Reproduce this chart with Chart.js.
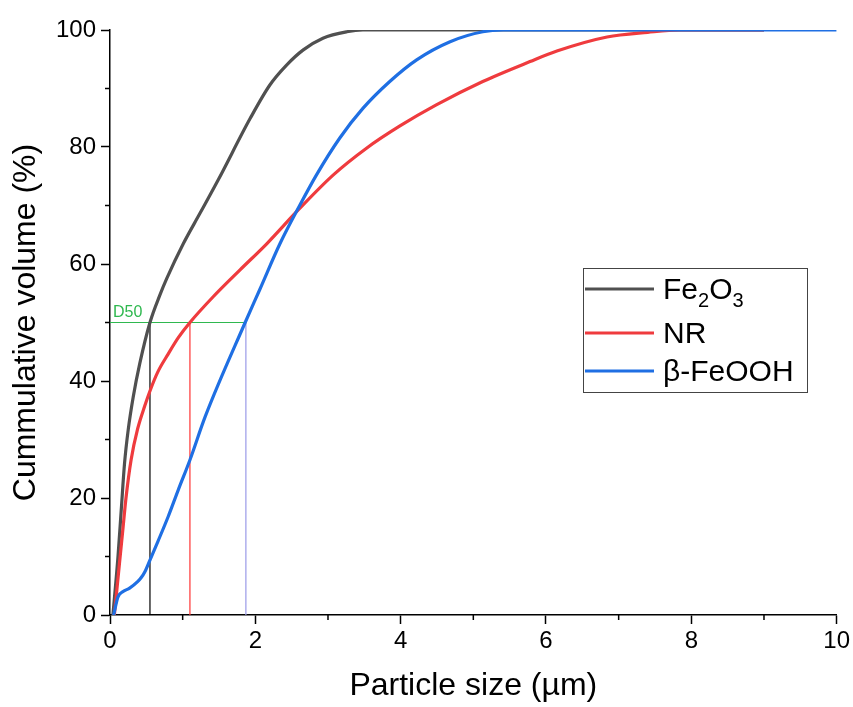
<!DOCTYPE html>
<html>
<head>
<meta charset="utf-8">
<script src="https://cdn.jsdelivr.net/npm/chart.js@4"></script>
<style>
    html, body { margin: 0; padding: 0; background: #fff; }
    #chart { display: block; }
</style>
</head>
<body>
<canvas id="chart" width="853" height="707"></canvas>
<script>
// Data
const fe2o3X = [0.04, 0.11, 0.155, 0.2, 0.25, 0.32, 0.41, 0.55, 0.69, 0.78, 1.01, 1.24, 1.49, 1.93, 2.2, 2.43, 2.66, 2.93, 3.26, 3.48, 9.0];
const fe2o3Y = [0, 10, 18, 25.9, 31.6, 37.3, 43, 50, 54.8, 57.5, 63.5, 68.7, 74.4, 84.9, 90.6, 94, 96.6, 98.6, 99.7, 100, 100];

const nrX = [0.06, 0.13, 0.18, 0.22, 0.29, 0.38, 0.48, 0.55, 0.66, 0.80, 0.94, 1.1, 1.42, 1.79, 2.16, 2.61, 3.07, 3.53, 3.99, 4.49, 5.13, 5.78, 6.15, 6.84, 7.4, 7.84, 9.0];
const nrY = [0, 8.8, 15, 20, 26.5, 31.8, 35.8, 38.3, 41.6, 44.6, 47.4, 50, 54.4, 59, 63.5, 69.5, 75.2, 79.8, 83.6, 87.2, 91.2, 94.6, 96.4, 98.8, 99.6, 100, 100];

const feoohX = [0.05, 0.11, 0.18, 0.27, 0.38, 0.43, 0.48, 0.55, 0.66, 0.80, 0.94, 1.1, 1.31, 1.86, 2.06, 2.34, 2.61, 2.84, 3.16, 3.48, 3.85, 4.22, 4.68, 5.13, 5.41, 10];
const feoohY = [0, 3.1, 4, 4.6, 5.7, 6.4, 7.4, 9.4, 12.6, 16.8, 21.4, 26.5, 33.9, 50, 55.6, 63.5, 70, 75.2, 81.5, 86.6, 91.2, 94.9, 98, 99.7, 100, 100];

const seriesNames = ['Fe2O3', 'NR', 'β-FeOOH'];
const seriesColors = ['#505050', '#ef3b3e', '#1f6fe3'];
const d50Values = [0.55, 1.1, 1.87];
const d50Colors = ['#000000', '#ff3333', '#9a9ae8'];
const d50Level = 50;

const xTicks = [0, 2, 4, 6, 8, 10];
const yTicks = [0, 20, 40, 60, 80, 100];

const FONT = "Arial, 'Liberation Sans', sans-serif";

function toPoints(xs, ys) {
    return xs.map((x, i) => ({ x: x, y: ys[i] }));
}

const curves = [
    toPoints(fe2o3X, fe2o3Y),
    toPoints(nrX, nrY),
    toPoints(feoohX, feoohY)
];

const datasets = [];

// D50 guide lines (drawn below the curves)
datasets.push({
    label: 'D50',
    data: [{ x: 0, y: d50Level }, { x: Math.max(...d50Values), y: d50Level }],
    borderColor: '#2fb84f',
    borderWidth: 1.2,
    pointRadius: 0,
    order: 5
});
d50Values.forEach((d, i) => {
    datasets.push({
        label: 'd50-' + i,
        data: [{ x: d, y: 0 }, { x: d, y: d50Level }],
        borderColor: d50Colors[i],
        borderWidth: 1.2,
        pointRadius: 0,
        order: 5
    });
});

curves.forEach((pts, i) => {
    datasets.push({
        label: seriesNames[i],
        data: pts,
        borderColor: seriesColors[i],
        borderWidth: 3.2,
        pointRadius: 0,
        cubicInterpolationMode: 'monotone',
        order: 3 - i
    });
});

// minor ticks on both axes
const minorTicks = {
    id: 'minorTicks',
    afterDraw(chart) {
        const ctx = chart.ctx;
        const xs = chart.scales.x, ys = chart.scales.y;
        ctx.save();
        ctx.strokeStyle = '#000';
        ctx.lineWidth = 1.5;
        ctx.beginPath();
        for (let v = 1; v < 10; v += 2) {
            const px = xs.getPixelForValue(v);
            ctx.moveTo(px, ys.bottom);
            ctx.lineTo(px, ys.bottom + 5);
        }
        for (let v = 10; v < 100; v += 20) {
            const py = ys.getPixelForValue(v);
            ctx.moveTo(xs.left, py);
            ctx.lineTo(xs.left - 5, py);
        }
        ctx.stroke();
        ctx.restore();
    }
};

// D50 label and boxed legend with subscripts
const annotations = {
    id: 'annotations',
    afterDraw(chart) {
        const ctx = chart.ctx;
        const xs = chart.scales.x, ys = chart.scales.y;
        ctx.save();
        ctx.fillStyle = '#2fb84f';
        ctx.font = '16px ' + FONT;
        ctx.textBaseline = 'alphabetic';
        ctx.fillText('D50', xs.getPixelForValue(0) + 3, ys.getPixelForValue(d50Level) - 6);

        // legend box
        const bx = 583, by = 268, bw = 224, bh = 124;
        ctx.strokeStyle = '#444';
        ctx.lineWidth = 1;
        ctx.strokeRect(bx + 0.5, by + 0.5, bw, bh);

        const rowY = [289, 333, 371];
        seriesNames.forEach((name, i) => {
            ctx.strokeStyle = seriesColors[i];
            ctx.lineWidth = 3;
            ctx.beginPath();
            ctx.moveTo(585, rowY[i]);
            ctx.lineTo(654, rowY[i]);
            ctx.stroke();

            ctx.fillStyle = '#000';
            const base = rowY[i] + 10;
            let x = 663;
            // digits become subscripts
            const parts = name.match(/(\d+|[^\d]+)/g);
            parts.forEach(p => {
                if (/^\d+$/.test(p)) {
                    ctx.font = '20px ' + FONT;
                    ctx.fillText(p, x, base + 8);
                } else {
                    ctx.font = '30px ' + FONT;
                    ctx.fillText(p, x, base);
                }
                x += ctx.measureText(p).width;
            });
        });
        ctx.restore();
    }
};

new Chart(document.getElementById('chart'), {
    type: 'line',
    data: { datasets: datasets },
    options: {
        responsive: false,
        animation: false,
        layout: { padding: { left: 0, right: 16, top: 30, bottom: 0 } },
        plugins: {
            legend: { display: false },
            tooltip: { enabled: false }
        },
        scales: {
            x: {
                type: 'linear',
                min: 0,
                max: 10,
                afterBuildTicks(scale) {
                    scale.ticks = xTicks.map(v => ({ value: v }));
                },
                afterFit(scale) { scale.height = 92; },
                grid: { drawOnChartArea: false, tickLength: 9, tickColor: '#000', tickWidth: 1.5 },
                border: { color: '#000', width: 1.5 },
                ticks: { color: '#000', font: { family: FONT, size: 24 }, padding: 3, maxRotation: 0 },
                title: {
                    display: true,
                    text: 'Particle size (µm)',
                    color: '#000',
                    font: { family: FONT, size: 32 },
                    padding: { top: 0, bottom: 2 }
                }
            },
            y: {
                type: 'linear',
                min: 0,
                max: 100,
                afterBuildTicks(scale) {
                    scale.ticks = yTicks.map(v => ({ value: v }));
                },
                afterFit(scale) { scale.width = 110; },
                grid: { drawOnChartArea: false, tickLength: 9, tickColor: '#000', tickWidth: 1.5 },
                border: { color: '#000', width: 1.5 },
                ticks: { color: '#000', font: { family: FONT, size: 24 }, padding: 5 },
                title: {
                    display: true,
                    text: 'Cummulative volume (%)',
                    color: '#000',
                    font: { family: FONT, size: 32 },
                    padding: { top: 7, bottom: 0 }
                }
            }
        }
    },
    plugins: [minorTicks, annotations]
});
</script>
</body>
</html>
